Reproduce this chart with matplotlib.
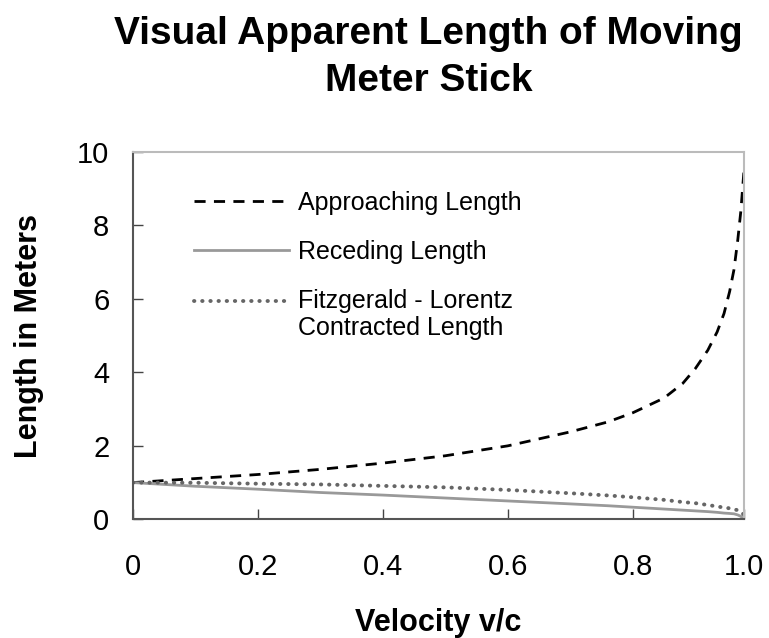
import matplotlib
matplotlib.use('Agg')
import matplotlib.pyplot as plt

plt.rcParams['font.family'] = ['Liberation Sans', 'DejaVu Sans']

# velocity v/c and apparent lengths
velocity = [0.0, 0.1, 0.2, 0.3, 0.4, 0.5, 0.6, 0.7, 0.76, 0.8, 0.85, 0.88, 0.9, 0.92,
            0.935, 0.946, 0.955, 0.962, 0.968, 0.973, 0.978]
approaching = [1.0, 1.11, 1.22, 1.36, 1.53, 1.73, 2.0, 2.38, 2.65, 2.9, 3.3, 3.7, 4.1, 4.6,
               5.1, 5.6, 6.2, 6.8, 7.6, 8.4, 9.5]
receding = [1.0, 0.90, 0.82, 0.73, 0.66, 0.58, 0.50, 0.42, 0.37, 0.33, 0.28, 0.25, 0.23, 0.21,
            0.19, 0.17, 0.16, 0.15, 0.12, 0.08, 0.0]
contracted = [1.0, 0.995, 0.97, 0.95, 0.91, 0.87, 0.80, 0.71, 0.65, 0.60, 0.53, 0.47, 0.44, 0.39,
              0.35, 0.32, 0.30, 0.27, 0.25, 0.21, 0.12]

x_ticks = [0, 0.2, 0.4, 0.6, 0.8, 0.978]
x_tick_labels = ['0', '0.2', '0.4', '0.6', '0.8', '1.0']
y_ticks = [0, 2, 4, 6, 8, 10]

fig = plt.figure(figsize=(7.69, 6.38), dpi=100)
ax = fig.add_axes([0.173, 0.186, 0.7945, 0.576])

ax.plot(velocity, approaching, color='black', lw=2, dashes=(4, 3), label='Approaching Length')
ax.plot(velocity, receding, color='#999999', lw=2, label='Receding Length')
ax.plot(velocity, contracted, color='#666666', lw=2.8, linestyle=(0, (0.1, 2.0)),
        dash_capstyle='round', label='Fitzgerald - Lorentz\nContracted Length')

ax.set_xlim(0, 0.978)
ax.set_ylim(0, 10)
ax.set_xticks(x_ticks)
ax.set_xticklabels(x_tick_labels)
ax.set_yticks(y_ticks)
ax.tick_params(direction='in', length=7, width=1, color='#444444', labelsize=21)
ax.tick_params(axis='x', pad=24)
ax.tick_params(axis='y', pad=17)

for side in ['left', 'bottom']:
    ax.spines[side].set_color('#555555')
    ax.spines[side].set_linewidth(1.5)
for side in ['top', 'right']:
    ax.spines[side].set_color('#bbbbbb')
    ax.spines[side].set_linewidth(1.5)

ax.set_xlabel('Velocity v/c', fontsize=22, fontweight='bold', labelpad=20)
ax.set_ylabel('Length in Meters', fontsize=22, fontweight='bold', labelpad=24)
fig.suptitle('Visual Apparent Length of Moving\nMeter Stick', fontsize=28, fontweight='bold',
             x=0.557, y=0.975, linespacing=1.4)

leg = ax.legend(loc='upper left', bbox_to_anchor=(194 / 769, 1 - 191 / 638),
                bbox_transform=fig.transFigure, borderaxespad=0, borderpad=0,
                frameon=False, fontsize=18, handlelength=3.8, handletextpad=0.35,
                labelspacing=1.0)
# keep the dotted handle level with the first line of its two-line label
for t in leg.get_texts():
    t.set_linespacing(1.15)
dotted = leg.get_lines()[2]
dotted.set_ydata([y + 10.5 for y in dotted.get_ydata()])

fig.savefig('out.png', dpi=100)
